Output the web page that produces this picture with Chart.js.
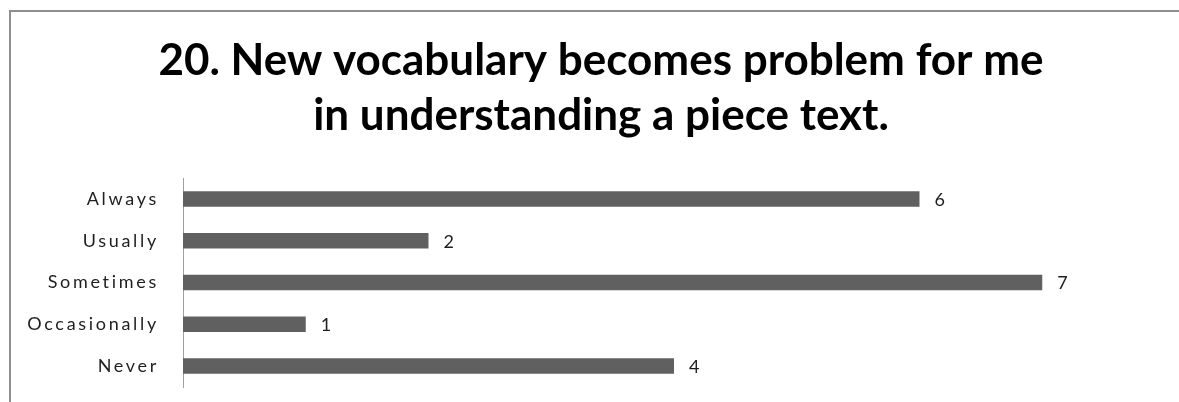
<!DOCTYPE html>
<html>
<head>
<meta charset="utf-8">
<script src="https://cdn.jsdelivr.net/npm/chart.js@4/dist/chart.umd.min.js"></script>
<style>
    html, body { margin: 0; padding: 0; background: #fff; overflow: hidden; }
    #frame {
        position: absolute;
        left: 9px;
        top: 10px;
        border-left: 2px solid #8f8f8f;
        border-top: 2px solid #8f8f8f;
    }
    canvas { display: block; }
</style>
</head>
<body>
<div id="frame">
    <canvas id="surveyChart" width="1168" height="390"></canvas>
</div>
<script>
const answers = ['Always', 'Usually', 'Sometimes', 'Occasionally', 'Never'];
const counts = [6, 2, 7, 1, 4];
const titleLines = ['20. New vocabulary becomes problem for me', 'in understanding a piece text.'];

const barColour = '#606060';
const textColour = '#1e1e1e';
const fontFace = 'Lato, "Open Sans", sans-serif';

// writes the count just past the end of every bar, then widens the
// letter spacing for the category labels that are drawn right after
const countLabels = {
    id: 'countLabels',
    afterLayout(chart) {
        // centre the title on the whole frame, not only on the plot side
        chart.titleBlock.left += 13;
        chart.titleBlock.right += 13;
    },
    afterDatasetsDraw(chart) {
        const ctx = chart.ctx;
        const meta = chart.getDatasetMeta(0);
        ctx.save();
        ctx.font = '18px ' + fontFace;
        ctx.fillStyle = textColour;
        ctx.textAlign = 'left';
        ctx.textBaseline = 'middle';
        meta.data.forEach((bar, i) => {
            ctx.fillText(String(counts[i]), bar.x + 15, bar.y + 1);
        });
        ctx.restore();
        ctx.letterSpacing = '2.7px';
    },
    afterDraw(chart) {
        chart.ctx.letterSpacing = '0px';
    },
};

let ctx = document.getElementById('surveyChart').getContext('2d');

let surveyConfig = {
    type: 'bar',
    data: {
        labels: answers,
        datasets: [
            {
                data: counts,
                backgroundColor: barColour,
                borderWidth: 0,
                barPercentage: 0.37,
                categoryPercentage: 1,
            },
        ],
    },
    options: {
        indexAxis: 'y',
        responsive: false,
        animation: false,
        layout: {
            padding: { left: 0, right: 14, top: 0, bottom: 15 },
        },
        plugins: {
            legend: { display: false },
            tooltip: { enabled: false },
            title: {
                display: true,
                text: titleLines,
                color: '#000',
                font: { family: fontFace, size: 44, weight: 'bold', lineHeight: 1.25 },
                padding: { top: 21, bottom: 35 },
            },
        },
        scales: {
            x: {
                display: false,
                min: 0,
                max: 8,
            },
            y: {
                grid: { display: false, drawTicks: false },
                border: { display: true, color: '#a0a0a0', width: 1 },
                ticks: {
                    color: textColour,
                    padding: 24,
                    z: 1,
                    font: { family: fontFace, size: 18 },
                },
                afterFit(scale) {
                    scale.width = 172;
                    // keep the label padding from eating into the plot height
                    scale.paddingTop = 0;
                    scale.paddingBottom = 0;
                },
            },
        },
    },
    plugins: [countLabels],
};

let surveyChart = new Chart(ctx, surveyConfig);
</script>
</body>
</html>
